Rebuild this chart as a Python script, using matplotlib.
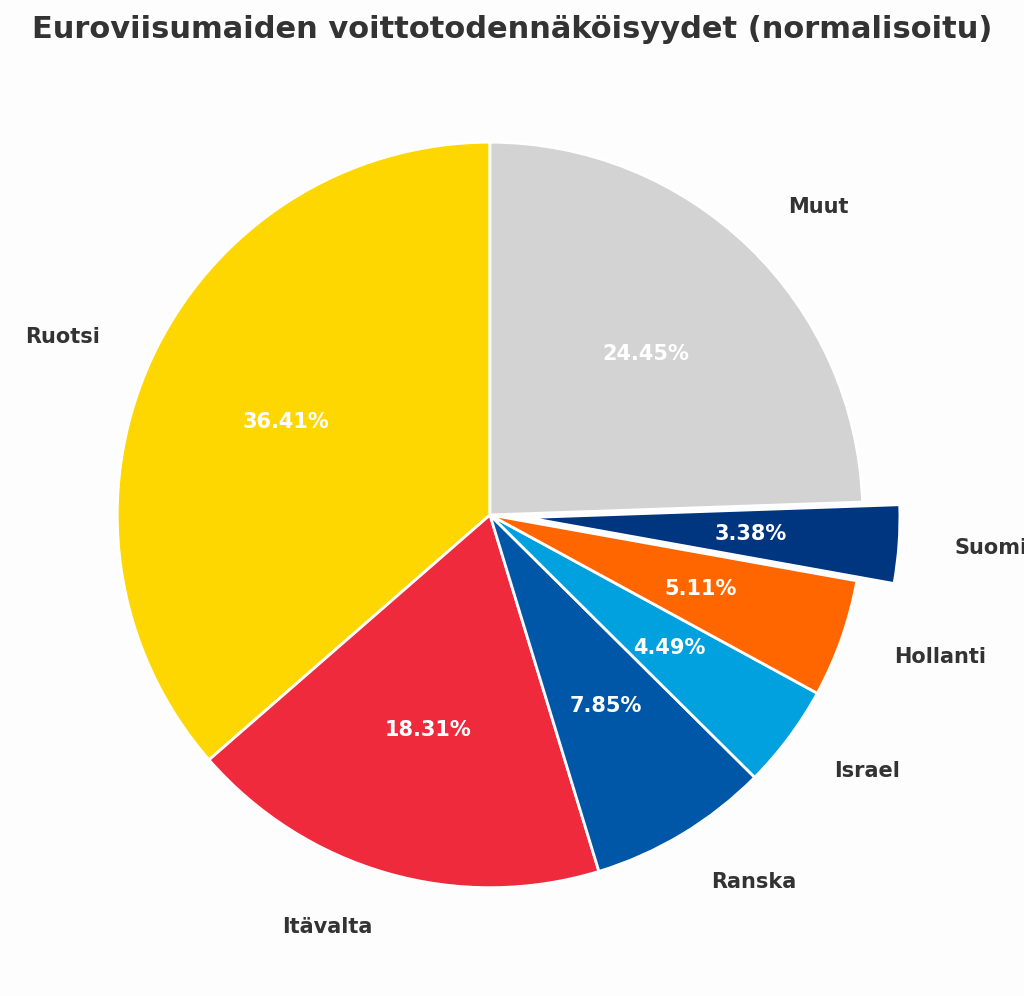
import matplotlib.pyplot as plt

labels = ["Ruotsi", "Itävalta", "Ranska", "Israel", "Hollanti", "Suomi", "Muut"]
values = [36.41, 18.31, 7.85, 4.49, 5.11, 3.38, 24.45]
colors = ["#FFD700", "#EE2A3C", "#0057A8", "#00A1DE", "#FF6600", "#003580", "#D3D3D3"]
explode = [0, 0, 0, 0, 0, 0.1, 0]

fig = plt.figure(figsize=(10.24, 9.96), dpi=100, facecolor="#fdfdfd")
ax = fig.add_axes([0.0235, 0.013, 0.91, 0.94])
wedges, texts, autotexts = ax.pie(
    values, labels=labels, colors=colors, explode=explode, startangle=90,
    counterclock=True, autopct="%.2f%%", pctdistance=0.6, labeldistance=1.15,
    wedgeprops=dict(edgecolor="white", linewidth=2))
for t in texts:
    t.set_fontsize(15); t.set_fontweight("bold"); t.set_color("#333333")
for t in autotexts:
    t.set_fontsize(15); t.set_fontweight("bold"); t.set_color("white")
ax.set_aspect("equal")
fig.suptitle("Euroviisumaiden voittotodennäköisyydet (normalisoitu)", fontsize=22,
             fontweight="bold", color="#333333", y=0.985)
fig.savefig("out.png", dpi=100, facecolor=fig.get_facecolor())
